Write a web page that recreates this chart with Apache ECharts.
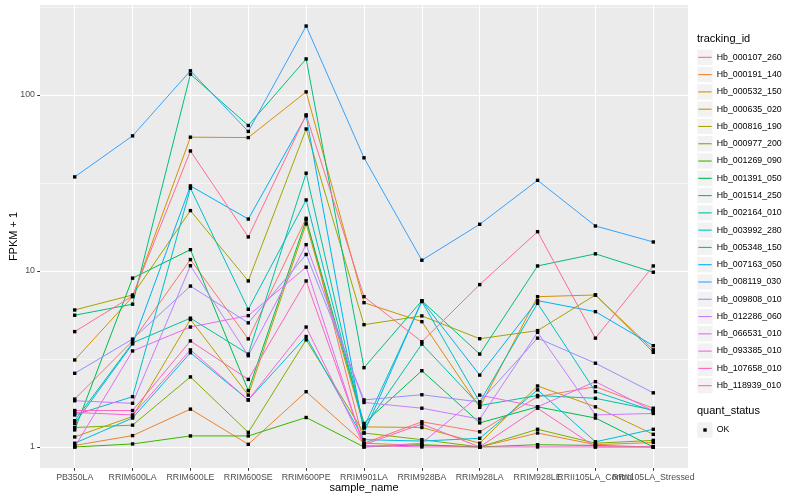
<!DOCTYPE html>
<html><head><meta charset="utf-8">
<script src="https://cdn.jsdelivr.net/npm/echarts@6/dist/echarts.min.js"></script>
<style>html,body{margin:0;padding:0;background:#fff}#c{width:800px;height:500px}</style>
</head><body><div id="c"></div>
<script>
// ---- data ----
const sampleNames = ['PB350LA','RRIM600LA','RRIM600LE','RRIM600SE','RRIM600PE','RRIM901LA','RRIM928BA','RRIM928LA','RRIM928LE','RRII105LA_Control','RRII105LA_Stressed'];
const trackingIds = ['Hb_000107_260','Hb_000191_140','Hb_000532_150','Hb_000635_020','Hb_000816_190','Hb_000977_200','Hb_001269_090','Hb_001391_050','Hb_001514_250','Hb_002164_010','Hb_003992_280','Hb_005348_150','Hb_007163_050','Hb_008119_030','Hb_009808_010','Hb_012286_060','Hb_066531_010','Hb_093385_010','Hb_107658_010','Hb_118939_010'];
const Hb_000107_260 = [1.87, 4.0, 11.6, 4.11, 19.9, 1.05, 1.39, 1.22, 1.93, 2.2, 1.66];
const Hb_000191_140 = [1.02, 1.16, 1.64, 1.035, 2.06, 1.05, 1.02, 1.0, 1.2, 1.03, 1.06];
const Hb_000532_150 = [3.12, 7.14, 57.5, 57.2, 104, 6.6, 5.15, 1.68, 7.14, 7.3, 3.56];
const Hb_000635_020 = [1.14, 1.49, 5.3, 1.97, 18.5, 1.3, 1.29, 1.05, 2.22, 1.69, 1.18];
const Hb_000816_190 = [6.0, 7.3, 22.0, 8.77, 64, 4.95, 5.55, 4.12, 4.58, 7.3, 3.45];
const Hb_000977_200 = [1.29, 1.33, 2.5, 1.21, 4.06, 1.2, 1.1, 1.0, 1.26, 1.05, 1.09];
const Hb_001269_090 = [1.0, 1.04, 1.155, 1.155, 1.47, 1.0, 1.03, 1.0, 1.03, 1.02, 1.0];
const Hb_001391_050 = [1.25, 9.1, 13.2, 2.09, 19.5, 1.36, 2.71, 1.37, 1.69, 1.46, 1.0];
const Hb_001514_250 = [5.6, 6.47, 131, 67, 160, 2.82, 6.77, 3.37, 10.67, 12.5, 9.83];
const Hb_002164_010 = [1.41, 3.9, 5.39, 3.37, 35.9, 1.28, 3.84, 1.72, 1.96, 1.89, 1.62];
const Hb_003992_280 = [1.52, 1.93, 29.5, 6.05, 25.3, 1.3, 6.7, 1.8, 6.55, 2.06, 1.6];
const Hb_005348_150 = [1.05, 1.46, 3.43, 1.85, 4.24, 1.1, 1.08, 1.12, 2.11, 1.07, 1.26];
const Hb_007163_050 = [1.36, 3.85, 30.4, 19.7, 76, 1.2, 6.77, 2.56, 6.78, 5.87, 3.76];
const Hb_008119_030 = [34.2, 58.5, 137, 62, 246, 43.9, 11.5, 18.4, 32.7, 18.0, 14.6];
const Hb_009808_010 = [2.62, 4.1, 8.2, 5.07, 12.4, 1.85, 1.98, 1.8, 4.15, 2.99, 2.03];
const Hb_012286_060 = [1.83, 1.77, 10.7, 3.3, 14.1, 1.79, 1.66, 1.44, 4.48, 1.52, 1.55];
const Hb_066531_010 = [1.0, 3.51, 4.8, 5.57, 10.5, 1.0, 1.05, 1.97, 1.69, 2.35, 1.6];
const Hb_093385_010 = [1.57, 1.52, 3.56, 1.85, 4.8, 1.02, 1.0, 1.0, 1.0, 1.0, 1.0];
const Hb_107658_010 = [1.61, 1.61, 4.0, 2.42, 8.77, 1.03, 1.35, 1.0, 1.66, 1.0, 1.0];
const Hb_118939_010 = [4.52, 7.2, 48, 15.6, 77, 7.14, 3.96, 8.36, 16.7, 4.15, 10.67];
const yTickValues = [1, 10, 100];
const quantStatus = ['OK'];

const fpkm = [Hb_000107_260,Hb_000191_140,Hb_000532_150,Hb_000635_020,Hb_000816_190,Hb_000977_200,Hb_001269_090,Hb_001391_050,Hb_001514_250,Hb_002164_010,Hb_003992_280,Hb_005348_150,Hb_007163_050,Hb_008119_030,Hb_009808_010,Hb_012286_060,Hb_066531_010,Hb_093385_010,Hb_107658_010,Hb_118939_010];

// ---- style ----
const palette = ['#F8766D','#EA8331','#D89000','#C09B00','#A3A500','#7CAE00','#39B600','#00BB4E','#00BF7D','#00C1A3','#00BFC4','#00BAE0','#00B0F6','#35A2FF','#9590FF','#C77CFF','#E76BF3','#FA62DB','#FF62BC','#FF6C91'];
const F = 'Liberation Sans';

// ggplot-like expansion (5% on log scale, 0.6 on discrete)
const allVals = fpkm.flat();
const lo = Math.log10(Math.min(...allVals)), hi = Math.log10(Math.max(...allVals));
const pad = (hi - lo) * 0.05;
const yMin = Math.pow(10, lo - pad), yMax = Math.pow(10, hi + pad);
const xMin = -0.6, xMax = sampleNames.length - 1 + 0.6;
const minorBreaks = [];
for (let e = Math.floor(lo - pad) - 1; e <= Math.ceil(hi + pad); e++) {
  const m = e + 0.5;
  if (m > lo - pad && m < hi + pad) minorBreaks.push(Math.pow(10, m));
}

const lineSeries = trackingIds.map((id, i) => ({
  name: id, type: 'line', data: fpkm[i].map((v, j) => [j, v]),
  symbol: 'none', showSymbol: false, silent: true, z: 2,
  lineStyle: { color: palette[i], width: 1 }, itemStyle: { color: palette[i] },
  emphasis: { disabled: true }
}));
lineSeries[0].markLine = {
  silent: true, symbol: 'none', z: 0, animation: false,
  label: { show: false }, emphasis: { disabled: true },
  lineStyle: { color: '#ffffff', width: 0.55, type: 'solid' },
  data: minorBreaks.map(v => ({ yAxis: v }))
};
const pointSeries = {
  name: quantStatus[0], type: 'scatter', z: 5, silent: true,
  symbol: 'rect', symbolSize: 3.4, itemStyle: { color: '#000', opacity: 1 },
  data: fpkm.flatMap(arr => arr.map((v, j) => [j, v]))
};

const keyTop = 57.3, keyStep = 17.28, keySize = 15.3, keyLeft = 697.3;
const okCenter = 430;
const graphics = [
  { type: 'text', left: 697, top: 33, style: { text: 'tracking_id', font: '11px ' + F, fill: '#000' } },
  { type: 'text', left: 697, top: okCenter - 25, style: { text: 'quant_status', font: '11px ' + F, fill: '#000' } },
  { type: 'rect', shape: { x: keyLeft, y: okCenter - keySize / 2, width: keySize, height: keySize }, style: { fill: '#F2F2F2' }, z: -1 }
];
trackingIds.forEach((id, i) => {
  graphics.push({ type: 'rect', shape: { x: keyLeft, y: keyTop + i * keyStep - keySize / 2, width: keySize, height: keySize }, style: { fill: '#F2F2F2' }, z: -1 });
});

const lineIcon = 'path://M0,0M13.4,15M0,7H13.4V8.1H0Z';
const xIdx = sampleNames.map((_, i) => i);
const xLabelBase = { formatter: v => sampleNames[Math.round(v)] || '', color: '#4d4d4d', fontFamily: F, fontSize: 8.8, margin: 5, hideOverlap: false, showMinLabel: true, showMaxLabel: true };

const chart = echarts.init(document.getElementById('c'), null, { renderer: 'canvas' });
chart.setOption({
  animation: false,
  backgroundColor: '#ffffff',
  grid: { left: 40, right: 112, top: 5, bottom: 32, show: true, backgroundColor: '#EBEBEB', borderWidth: 0, containLabel: false, outerBoundsMode: 'none' },
  xAxis: [{
    type: 'value', min: xMin, max: xMax, position: 'bottom',
    name: 'sample_name', nameLocation: 'middle', nameGap: 14.5, nameMoveOverlap: false,
    nameTextStyle: { fontFamily: F, fontSize: 11, color: '#000' },
    axisLine: { show: false, onZero: false },
    axisTick: { show: true, length: 2.75, lineStyle: { color: '#333333', width: 1 }, customValues: xIdx },
    axisLabel: Object.assign({ customValues: xIdx.filter(i => i % 2 === 0) }, xLabelBase),
    splitLine: { show: true, lineStyle: { color: '#ffffff', width: 1.07 } },
    minorTick: { show: false }, minorSplitLine: { show: false }
  }, {
    type: 'value', min: xMin, max: xMax, position: 'bottom', offset: 0,
    axisLine: { show: false, onZero: false }, axisTick: { show: false }, splitLine: { show: false },
    axisLabel: Object.assign({ customValues: xIdx.filter(i => i % 2 === 1) }, xLabelBase)
  }],
  yAxis: {
    type: 'log', logBase: 10, min: yMin, max: yMax,
    name: 'FPKM + 1', nameLocation: 'middle', nameGap: 21, nameMoveOverlap: false,
    nameTextStyle: { fontFamily: F, fontSize: 11, color: '#000' },
    axisLine: { show: false, onZero: false },
    axisTick: { show: true, length: 2.75, lineStyle: { color: '#333333', width: 1 }, customValues: yTickValues },
    axisLabel: { customValues: yTickValues, color: '#4d4d4d', fontFamily: F, fontSize: 8.8, margin: 5 },
    splitLine: { show: true, lineStyle: { color: '#ffffff', width: 1.07 } },
    minorTick: { show: false }, minorSplitLine: { show: false }
  },
  legend: [
    {
      orient: 'vertical', left: 698.3, top: keyTop - 7.5, padding: 0,
      itemWidth: 13.4, itemHeight: 15, itemGap: keyStep - 15,
      data: trackingIds.map(n => ({ name: n, icon: lineIcon })), selectedMode: false,
      textStyle: { fontFamily: F, fontSize: 8.8, color: '#000', lineHeight: 15, height: 15 }
    },
    {
      orient: 'vertical', left: 698.3, top: okCenter - 7.5, padding: 0,
      itemWidth: 13.4, itemHeight: 15, selectedMode: false,
      data: [{ name: quantStatus[0], icon: 'path://M0,0M13.4,15M5.0,5.8H8.4V9.2H5.0Z' }],
      textStyle: { fontFamily: F, fontSize: 8.8, color: '#000', lineHeight: 15, height: 15 }
    }
  ],
  graphic: graphics,
  series: [...lineSeries, pointSeries]
});
</script></body></html>
